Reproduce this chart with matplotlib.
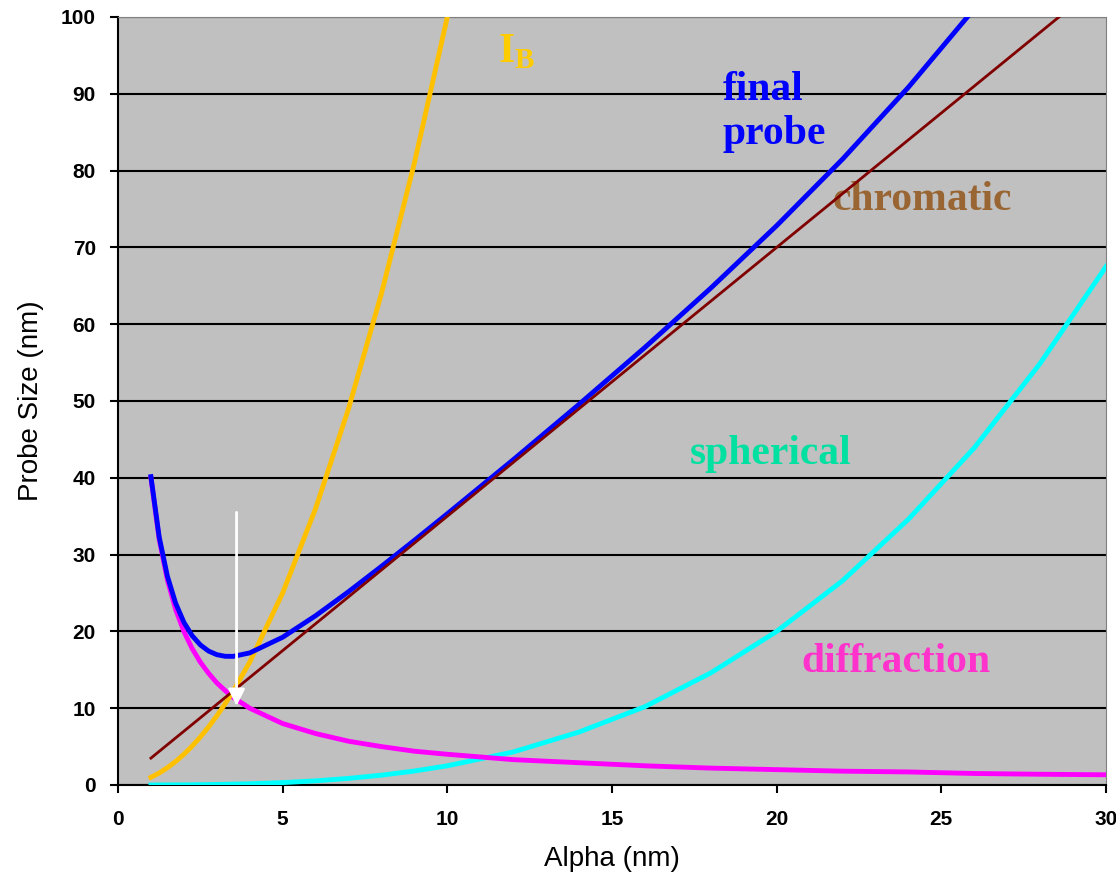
import matplotlib
matplotlib.use("Agg")
import matplotlib.pyplot as plt

alpha = [1, 1.25, 1.5, 1.75, 2, 2.25, 2.5, 2.75, 3, 3.25, 3.5, 4, 5, 6, 7, 8, 9, 10,
         12, 14, 16, 18, 20, 22, 24, 26, 28, 30]
chromatic = [3.5, 4.375, 5.25, 6.125, 7, 7.875, 8.75, 9.625, 10.5, 11.375, 12.25, 14, 17.5, 21,
             24.5, 28, 31.5, 35, 42, 49, 56, 63, 70, 77, 84, 91, 98, 105]
diffraction = [40, 32, 26.7, 22.86, 20, 17.78, 16, 14.55, 13.3, 12.31, 11.4, 10, 8, 6.7,
               5.7, 5, 4.4, 4, 3.3, 2.9, 2.5, 2.2, 2, 1.8, 1.7, 1.5, 1.4, 1.33]
spherical = [0.0025, 0.005, 0.008, 0.013, 0.02, 0.028, 0.04, 0.052, 0.07, 0.086, 0.11, 0.16,
             0.31, 0.54, 0.86, 1.28, 1.82, 2.5, 4.3, 6.9, 10.2, 14.6, 20, 26.6, 34.6, 43.9,
             54.9, 67.5]
final_probe = [40.15, 32.3, 27.18, 23.67, 21.19, 19.45, 18.24, 17.44, 16.97, 16.76, 16.75,
               17.2, 19.24, 22.04, 25.17, 28.47, 31.86, 35.32, 42.35, 49.57, 56.98, 64.7,
               72.83, 81.49, 90.85, 101.07, 110, 120]
alpha_ib = [1, 1.25, 1.5, 1.75, 2, 2.25, 2.5, 2.75, 3, 3.25, 3.5, 4, 5, 6, 7, 8, 9, 10, 10.5]
i_b = [1, 1.56, 2.25, 3.06, 4, 5.06, 6.25, 7.56, 9, 10.56, 12.25, 16, 25, 36, 49, 64, 81,
       100, 110.25]

x_ticks = [0, 5, 10, 15, 20, 25, 30]
y_ticks = [0, 10, 20, 30, 40, 50, 60, 70, 80, 90, 100]

fig = plt.figure(figsize=(11.16, 8.81), dpi=100)
ax = fig.add_axes([118/1116, 96/881, 988/1116, 768/881])
ax.set_facecolor("#C0C0C0")

ax.plot(alpha, spherical, color="#00FFFF", lw=3.5, zorder=3)
ax.plot(alpha, diffraction, color="#FF00FF", lw=3.5, zorder=3)
ax.plot(alpha_ib, i_b, color="#FFC000", lw=3.5, zorder=4)
ax.plot(alpha, chromatic, color="#800000", lw=2, zorder=5)
ax.plot(alpha, final_probe, color="#0000FF", lw=3.5, zorder=4)

ax.annotate("", xy=(3.6, 10.3), xytext=(3.6, 35.5),
            arrowprops=dict(arrowstyle="-|>", color="white", lw=2,
                            mutation_scale=25, shrinkA=0, shrinkB=0), zorder=6)

ax.set_xlim(0, 30)
ax.set_ylim(0, 100)
ax.set_xticks(x_ticks)
ax.set_yticks(y_ticks)
ax.yaxis.grid(True, color="black", lw=1.5)
ax.set_axisbelow(True)
for s in ["top", "right"]:
    ax.spines[s].set_color("#808080")
for s in ["left", "bottom"]:
    ax.spines[s].set_color("black")
    ax.spines[s].set_linewidth(1.5)

for lab in ax.get_xticklabels() + ax.get_yticklabels():
    lab.set_fontfamily("Liberation Sans")
    lab.set_fontsize(15)
    lab.set_fontweight("bold")
ax.tick_params(axis="x", length=6, pad=12, direction="out", width=1.5)
ax.tick_params(axis="y", length=6, pad=10, direction="out", width=1.5)
tf = dict(family="Liberation Sans", fontsize=20)
ax.set_xlabel("Alpha (nm)", labelpad=12, **tf)
ax.set_ylabel("Probe Size (nm)", labelpad=12, **tf)

sf = dict(family="Liberation Serif", fontweight="bold", fontsize=30)
ax.text(11.55, 95.5, r"I$_{\mathregular{B}}$", color="#FFCC00", ha="left", va="center", **sf)
ax.text(18.35, 87.6, "final\nprobe", color="#0000FF", ha="left", va="center", linespacing=1.2, **sf)
ax.text(21.7, 76.2, "chromatic", color="#996633", ha="left", va="center", **sf)
ax.text(17.35, 43.1, "spherical", color="#00E0A0", ha="left", va="center", **sf)
ax.text(20.75, 16.0, "diffraction", color="#FF33CC", ha="left", va="center", **sf)

fig.savefig("out.png", dpi=100)
